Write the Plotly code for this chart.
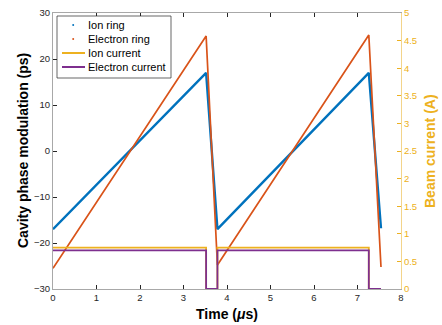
import plotly.graph_objects as go

# Ring phase modulation (ps) vertices
ion_t = [0, 3.52, 3.78, 7.26, 7.54]
ion_ps = [-17, 17, -17, 17, -16.8]
ele_t = [0, 3.52, 3.78, 7.26, 7.54]
ele_ps = [-25.5, 25, -24.8, 25.2, -25.2]

# Beam currents (A), step profiles
cur_t = [0, 3.52, 3.52, 3.78, 3.78, 7.26, 7.26, 7.54]
ion_cur = [0.75, 0.75, 0, 0, 0.75, 0.75, 0, 0]
ele_cur = [0.7, 0.7, 0, 0, 0.7, 0.7, 0, 0]

legend_names = ["Ion ring", "Electron ring", "Ion current", "Electron current"]

BLUE = "#0072BD"
RED = "#D95319"
YEL = "#EDB120"
PUR = "#7E2F8E"

W, H = 442, 325
L, R, T, B = 53, 41, 13, 36
PW, PH = W - L - R, H - T - B


def px(x):
    return (x - L) / PW


def py(y):
    return (H - B - y) / PH


fig = go.Figure()
fig.add_trace(go.Scatter(x=ion_t, y=ion_ps, mode="lines", line=dict(color=BLUE, width=2.4),
                         name=legend_names[0], showlegend=False))
fig.add_trace(go.Scatter(x=ele_t, y=ele_ps, mode="lines", line=dict(color=RED, width=1.7),
                         name=legend_names[1], showlegend=False))
fig.add_trace(go.Scatter(x=cur_t, y=ion_cur, mode="lines", line=dict(color=YEL, width=1.8),
                         name=legend_names[2], yaxis="y2", showlegend=False))
fig.add_trace(go.Scatter(x=cur_t, y=ele_cur, mode="lines", line=dict(color=PUR, width=1.8),
                         name=legend_names[3], yaxis="y2", showlegend=False))

font = "Liberation Sans, Arial, sans-serif"
TC = "#262626"

shapes = []
annotations = []
# legend box
shapes.append(dict(type="rect", xref="paper", yref="paper", x0=px(57), x1=px(171), y0=py(78), y1=py(16),
                   line=dict(color=TC, width=0.7), fillcolor="white", layer="above"))
item_y = [25, 39, 53, 67]
colors = [BLUE, RED, YEL, PUR]
for i, (name, c, yy) in enumerate(zip(legend_names, colors, item_y)):
    if i < 2:
        shapes.append(dict(type="circle", xref="paper", yref="paper",
                           x0=px(72.2), x1=px(74.2), y0=py(yy + 1), y1=py(yy - 1),
                           line=dict(color=c, width=0), fillcolor=c, layer="above"))
    else:
        shapes.append(dict(type="line", xref="paper", yref="paper",
                           x0=px(62), x1=px(85), y0=py(yy), y1=py(yy),
                           line=dict(color=c, width=2), layer="above"))
    annotations.append(dict(text=name, xref="paper", yref="paper", x=px(86), y=py(yy),
                            xanchor="left", yanchor="middle", showarrow=False,
                            font=dict(size=11, color="#000", family=font)))

# axis titles
annotations.append(dict(text="<b>Cavity phase modulation (ps)</b>", xref="paper", yref="paper",
                        x=px(23), y=py(151), textangle=-90, showarrow=False,
                        xanchor="center", yanchor="middle",
                        font=dict(size=14, color="#000", family=font)))
annotations.append(dict(text="<b>Beam current (A)</b>", xref="paper", yref="paper",
                        x=px(430), y=py(151), textangle=-90, showarrow=False,
                        xanchor="center", yanchor="middle",
                        font=dict(size=14, color=YEL, family=font)))
annotations.append(dict(text="<b>Time (<i>μ</i>s)</b>", xref="paper", yref="paper",
                        x=px(227), y=py(314), showarrow=False,
                        xanchor="center", yanchor="middle",
                        font=dict(size=14, color="#000", family=font)))

fig.update_layout(
    width=W, height=H,
    margin=dict(l=L, r=R, t=T, b=B),
    plot_bgcolor="white", paper_bgcolor="white",
    font=dict(family=font, size=9, color=TC),
    showlegend=False,
    shapes=shapes,
    annotations=annotations,
    xaxis=dict(range=[0, 8], tickvals=[0, 1, 2, 3, 4, 5, 6, 7, 8], ticks="inside", ticklen=4,
               tickcolor=TC, showline=True, linecolor="#a8a8a8", linewidth=1, mirror="ticks",
               showgrid=False, zeroline=False, automargin=False, tickfont=dict(size=9.5, color=TC)),
    yaxis=dict(range=[-30, 30], tickvals=[-30, -20, -10, 0, 10, 20, 30], ticks="inside", ticklen=4,
               tickcolor=TC, showline=True, linecolor="#a8a8a8", linewidth=1,
               showgrid=False, zeroline=False, automargin=False, tickfont=dict(size=9.5, color=TC)),
    yaxis2=dict(range=[0, 5], overlaying="y", side="right",
                tickvals=[0, 0.5, 1, 1.5, 2, 2.5, 3, 3.5, 4, 4.5, 5],
                ticktext=["0", "0.5", "1", "1.5", "2", "2.5", "3", "3.5", "4", "4.5", "5"],
                ticks="inside", ticklen=4, tickcolor=YEL, tickfont=dict(color=YEL, size=9.5),
                showline=True, linecolor="#f3d48a", linewidth=1, showgrid=False, zeroline=False,
                automargin=False),
)
fig.write_html("out.html", config={"displayModeBar": False},
               post_script="document.body.style.margin='0';document.body.style.overflow='hidden';")
